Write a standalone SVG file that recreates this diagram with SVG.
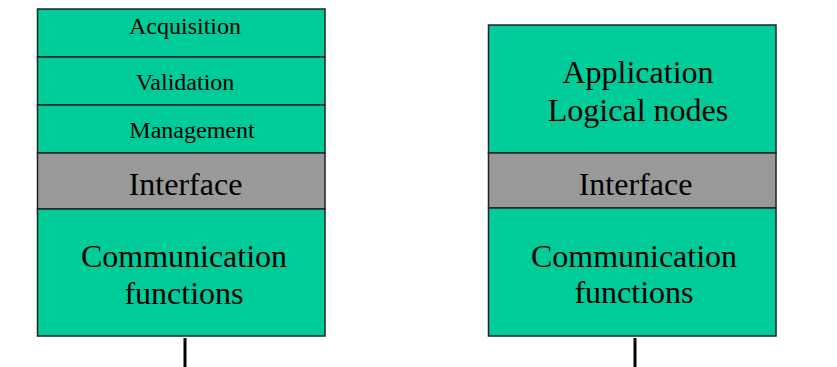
<svg xmlns="http://www.w3.org/2000/svg" width="837" height="367" viewBox="0 0 837 367">
<style>
.g{fill:#00CC99;stroke:#222;stroke-width:1.5}
.i{fill:#999999;stroke:#222;stroke-width:1.5}
.s{font-family:"Liberation Serif","Times New Roman",serif;font-size:24px;fill:#000;text-anchor:middle}
.l{font-family:"Liberation Serif","Times New Roman",serif;font-size:32px;fill:#000;text-anchor:middle}
.c{stroke:#000;stroke-width:3}
</style>
<rect width="837" height="367" fill="#fff"/>
<g id="left-acquisition"><rect class="g" x="37.5" y="9" width="287.5" height="48"/><text class="s" x="185" y="34">Acquisition</text></g>
<g id="left-validation"><rect class="g" x="37.5" y="57" width="287.5" height="48"/><text class="s" x="185" y="90">Validation</text></g>
<g id="left-management"><rect class="g" x="37.5" y="105" width="287.5" height="48"/><text class="s" x="192" y="137.5">Management</text></g>
<g id="left-interface"><rect class="i" x="37.5" y="153" width="287.5" height="56"/><text class="l" x="185.5" y="195">Interface</text></g>
<g id="left-communication"><rect class="g" x="37.5" y="209" width="287.5" height="127"/><text class="l" x="184" y="267">Communication</text><text class="l" x="184" y="304">functions</text></g>
<g id="right-application"><rect class="g" x="488.5" y="25" width="287.5" height="128"/><text class="l" x="638" y="83">Application</text><text class="l" x="638" y="121">Logical nodes</text></g>
<g id="right-interface"><rect class="i" x="488.5" y="153" width="287.5" height="55"/><text class="l" x="635.5" y="195">Interface</text></g>
<g id="right-communication"><rect class="g" x="488.5" y="208" width="287.5" height="128"/><text class="l" x="634" y="267">Communication</text><text class="l" x="634" y="303">functions</text></g>
<g id="connectors">
<line class="c" x1="185" y1="338" x2="185" y2="367"/>
<line class="c" x1="635" y1="338" x2="635" y2="367"/>
</g>
</svg>
